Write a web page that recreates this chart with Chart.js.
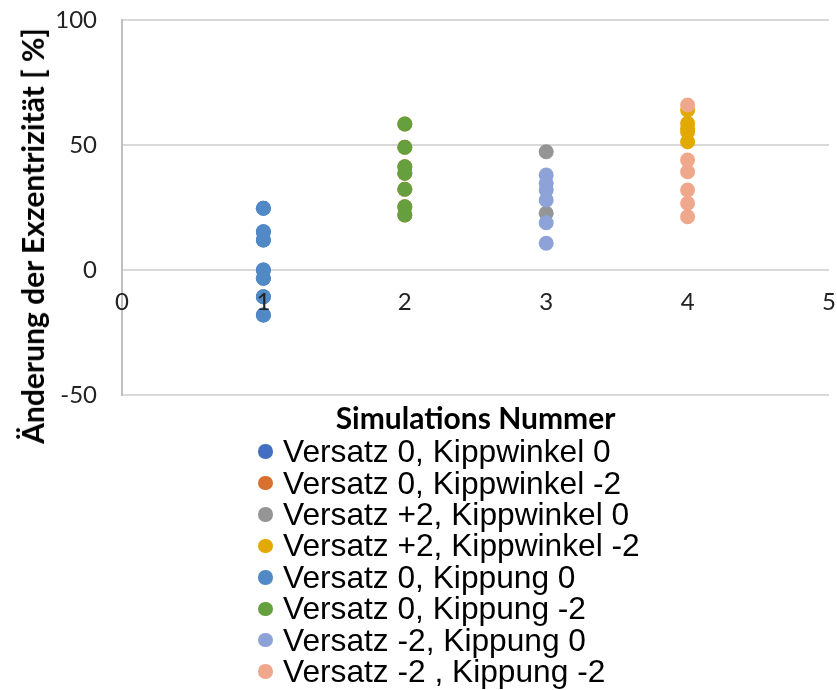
<!DOCTYPE html>
<html><head><meta charset="utf-8">
<script src="https://cdn.jsdelivr.net/npm/chart.js@4/dist/chart.umd.min.js"></script>
<style>
html,body{margin:0;padding:0;background:#fff;}
#wrap{position:relative;width:837px;height:690px;overflow:hidden;}
canvas{position:absolute;left:0;top:0;}
#ytitle{position:absolute;left:32px;top:236px;transform:translate(-50%,-50%) rotate(-90deg);font-family:Lato,sans-serif;font-weight:bold;font-size:30px;white-space:nowrap;line-height:1;color:#000;}
#legend{position:absolute;left:258px;top:436px;font-family:"Liberation Sans",Arial,sans-serif;font-size:31.7px;color:#000;}
.row{display:flex;align-items:center;height:31.43px;white-space:nowrap;}
.dot{width:14.5px;height:14.5px;border-radius:50%;margin-right:10.5px;flex:none;}
</style></head><body>
<div id="wrap"><canvas id="c" width="837" height="690"></canvas><div id="ytitle">Änderung der Exzentrizität [ %]</div><div id="legend"></div></div>
<script>
// ---- data ----
const seriesNames = [
  "Versatz 0, Kippwinkel 0",
  "Versatz 0, Kippwinkel -2",
  "Versatz +2, Kippwinkel 0",
  "Versatz +2, Kippwinkel -2",
  "Versatz 0, Kippung 0",
  "Versatz 0, Kippung -2",
  "Versatz -2, Kippung 0",
  "Versatz -2 , Kippung -2"
];
const simulationNr = [1, 2, 3, 4, 1, 2, 3, 4];
const versatz0Kippwinkel0   = [24.7, 15.3, 12, 0, -3.3, -10.7, -18];
const versatz0KippwinkelM2  = [58.4, 49.1, 41.3, 38.7, 32.3, 25.3, 22];
const versatzP2Kippwinkel0  = [47.3, 22.7];
const versatzP2KippwinkelM2 = [64, 58.7, 56.7, 55.3, 51.3];
const versatz0Kippung0      = [24.7, 15.3, 12, 0, -3.3, -10.7, -18];
const versatz0KippungM2     = [58.4, 49.1, 41.3, 38.7, 32.3, 25.3, 22];
const versatzM2Kippung0     = [38, 34.7, 32, 28, 18.9, 10.7];
const versatzM2KippungM2    = [66, 44, 39.3, 32, 26.7, 21.3];
const seriesValues = [versatz0Kippwinkel0, versatz0KippwinkelM2, versatzP2Kippwinkel0, versatzP2KippwinkelM2,
                      versatz0Kippung0, versatz0KippungM2, versatzM2Kippung0, versatzM2KippungM2];
const xTicks = [0, 1, 2, 3, 4, 5];
const yTicks = [-50, 0, 50, 100];
const xTitle = "Simulations Nummer";

// ---- styles ----
const colors = ["#4170C0", "#D8702E", "#959595", "#E2A900", "#5089C6", "#66A03E", "#8DA3D8", "#F0A88C"];
const tickFont = {family: "Lato", size: 24, lineHeight: 1.2};

const datasets = seriesNames.map((name, i) => ({
  label: name,
  data: seriesValues[i].map(v => ({x: simulationNr[i], y: v})),
  backgroundColor: colors[i],
  borderColor: colors[i],
  borderWidth: 0,
  pointRadius: 7.5,
  pointHoverRadius: 7.5,
  order: seriesNames.length - i
}));

const chart = new Chart(document.getElementById('c'), {
  type: 'scatter',
  data: {datasets},
  options: {
    responsive: false,
    animation: false,
    layout: {padding: {left: 0, top: 20, right: 8, bottom: 249}},
    plugins: {legend: {display: false}, tooltip: {enabled: false}},
    scales: {
      x: {
        type: 'linear', position: {y: 0}, min: xTicks[0], max: xTicks[xTicks.length - 1],
        afterBuildTicks: s => { s.ticks = xTicks.map(v => ({value: v})); },
        ticks: {font: tickFont, color: '#222', padding: 18, maxRotation: 0, autoSkip: false, z: 1},
        grid: {display: false, drawTicks: false},
        border: {display: false},
        afterFit: s => { s.paddingLeft = 0; s.paddingRight = 0; }
      },
      x2: {
        type: 'linear', position: 'bottom', min: 0, max: 5,
        ticks: {display: false},
        grid: {display: false, drawTicks: false},
        border: {display: false},
        title: {display: true, text: xTitle, color: '#000', font: {family: 'Lato', size: 30, weight: 'bold', lineHeight: 1.2}, padding: {top: 0, bottom: 4}},
        afterFit: s => { s.height = 46; s.paddingLeft = 0; s.paddingRight = 0; }
      },
      y: {
        type: 'linear', min: yTicks[0], max: yTicks[yTicks.length - 1],
        afterBuildTicks: s => { s.ticks = yTicks.map(v => ({value: v})); },
        ticks: {font: tickFont, color: '#222', padding: 25},
        grid: {color: '#D9D9D9', lineWidth: 2, drawTicks: false},
        border: {color: '#BFBFBF', width: 2},
        afterFit: s => { s.width = 122; s.paddingTop = 0; s.paddingBottom = 0; }
      }
    }
  }
});

// HTML legend built from the chart's datasets
const legend = document.getElementById('legend');
chart.data.datasets.forEach(ds => {
  const row = document.createElement('div'); row.className = 'row';
  const dot = document.createElement('span'); dot.className = 'dot'; dot.style.background = ds.backgroundColor;
  const txt = document.createElement('span'); txt.textContent = ds.label;
  row.appendChild(dot); row.appendChild(txt); legend.appendChild(row);
});
</script>
</body></html>
